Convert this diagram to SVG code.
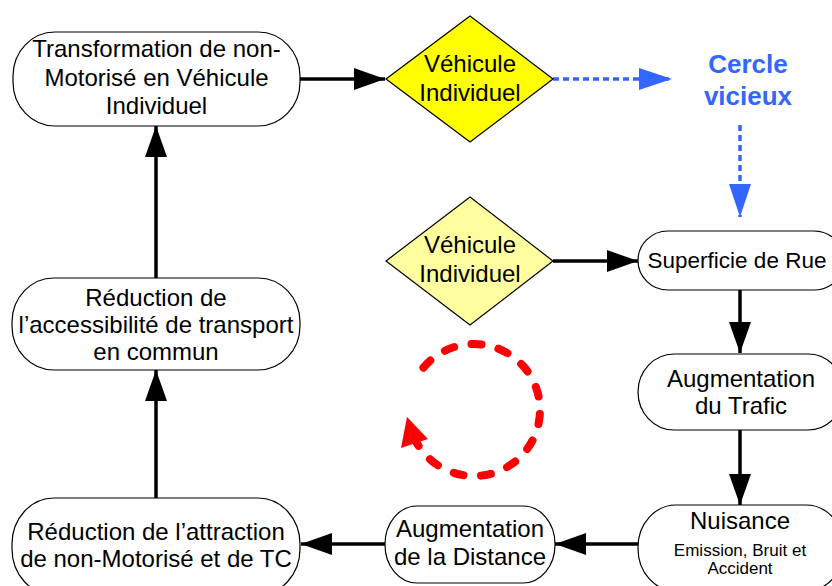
<svg xmlns="http://www.w3.org/2000/svg" width="832" height="586" viewBox="0 0 832 586">
<defs>
<style>
.box{fill:#fff;stroke:#000;stroke-width:1.2}
.dia{stroke:#000;stroke-width:1.2}
.t{font-family:"Liberation Sans",Arial,sans-serif;font-size:24px;fill:#000;text-anchor:middle}
.s{font-family:"Liberation Sans",Arial,sans-serif;font-size:17px;fill:#000;text-anchor:middle}
.blue{font-family:"Liberation Sans",Arial,sans-serif;font-size:26px;font-weight:bold;fill:#3366FF;text-anchor:middle}
.ln{stroke:#000;stroke-width:3.5;fill:none}
.bl{stroke:#3366FF;stroke-width:3.5;fill:none;stroke-dasharray:6 4}
</style>
<marker id="ah" markerUnits="userSpaceOnUse" markerWidth="32" markerHeight="22" refX="31" refY="11" orient="auto">
<path d="M0,0 L31,11 L0,22 Z" fill="#000"/>
</marker>
<marker id="bh" markerUnits="userSpaceOnUse" markerWidth="34" markerHeight="22" refX="33" refY="11" orient="auto">
<path d="M0,0 L33,11 L0,22 Z" fill="#3366FF"/>
</marker>
</defs>

<g id="connectors">
<line class="ln" x1="300" y1="79" x2="385" y2="79" marker-end="url(#ah)"/>
<line class="bl" x1="553" y1="79" x2="672" y2="79" marker-end="url(#bh)"/>
<line class="bl" x1="740" y1="125" x2="740" y2="217" marker-end="url(#bh)"/>
<line class="ln" x1="553" y1="261" x2="638" y2="261" marker-end="url(#ah)"/>
<line class="ln" x1="740" y1="290" x2="740" y2="353" marker-end="url(#ah)"/>
<line class="ln" x1="740" y1="430" x2="740" y2="505" marker-end="url(#ah)"/>
<line class="ln" x1="638" y1="544" x2="555" y2="544" marker-end="url(#ah)"/>
<line class="ln" x1="385" y1="544" x2="301" y2="544" marker-end="url(#ah)"/>
<line class="ln" x1="156" y1="498" x2="156" y2="370" marker-end="url(#ah)"/>
<line class="ln" x1="156" y1="278" x2="156" y2="126" marker-end="url(#ah)"/>
</g>

<g id="cycle">
<path d="M423.4,367.6 A66,66 0 1 1 415.7,441" fill="none" stroke="#FF0000" stroke-width="8" stroke-linecap="round" stroke-dasharray="10 17.5"/>
<polygon points="407,417 401,448 428,439" fill="#FF0000"/>
</g>

<g id="n-transformation">
<rect class="box" x="13" y="32" width="287" height="94" rx="42" ry="44"/>
<text class="t" x="156.5" y="57">Transformation de non-</text>
<text class="t" x="156.5" y="86">Motorisé en Véhicule</text>
<text class="t" x="156.5" y="114">Individuel</text>
</g>

<g id="n-vehicule1">
<polygon class="dia" points="386,79 470,16 553,79 470,142" fill="#FFFF00"/>
<text class="t" x="470" y="72">Véhicule</text>
<text class="t" x="470" y="101">Individuel</text>
</g>

<g id="n-cercle">
<text class="blue" x="748" y="73">Cercle</text>
<text class="blue" x="748" y="105">vicieux</text>
</g>

<g id="n-vehicule2">
<polygon class="dia" points="386,261 470,197 553,261 470,325" fill="#FFFFA0"/>
<text class="t" x="470" y="253">Véhicule</text>
<text class="t" x="470" y="282">Individuel</text>
</g>

<g id="n-superficie">
<rect class="box" x="638" y="231" width="206" height="59" rx="30" ry="29.5"/>
<text class="t" x="737" y="268" style="font-size:22.5px">Superficie de Rue</text>
</g>

<g id="n-trafic">
<rect class="box" x="638" y="354" width="206" height="76" rx="36" ry="38"/>
<text class="t" x="741" y="387">Augmentation</text>
<text class="t" x="741" y="414">du Trafic</text>
</g>

<g id="n-nuisance">
<rect class="box" x="638" y="505" width="206" height="86" rx="38" ry="42"/>
<text class="t" x="740" y="529">Nuisance</text>
<text class="s" x="740" y="556">Emission, Bruit et</text>
<text class="s" x="740" y="574">Accident</text>
</g>

<g id="n-distance">
<rect class="box" x="385" y="506" width="170" height="77" rx="32" ry="38"/>
<text class="t" x="470" y="537">Augmentation</text>
<text class="t" x="470" y="565">de la Distance</text>
</g>

<g id="n-attraction">
<rect class="box" x="12" y="498" width="288" height="97" rx="42" ry="46"/>
<text class="t" x="156" y="540">Réduction de l’attraction</text>
<text class="t" x="156" y="567">de non-Motorisé et de TC</text>
</g>

<g id="n-accessibilite">
<rect class="box" x="12" y="278" width="288" height="92" rx="42" ry="44"/>
<text class="t" x="156" y="306">Réduction de</text>
<text class="t" x="156" y="333">l’accessibilité de transport</text>
<text class="t" x="156" y="360">en commun</text>
</g>
</svg>
